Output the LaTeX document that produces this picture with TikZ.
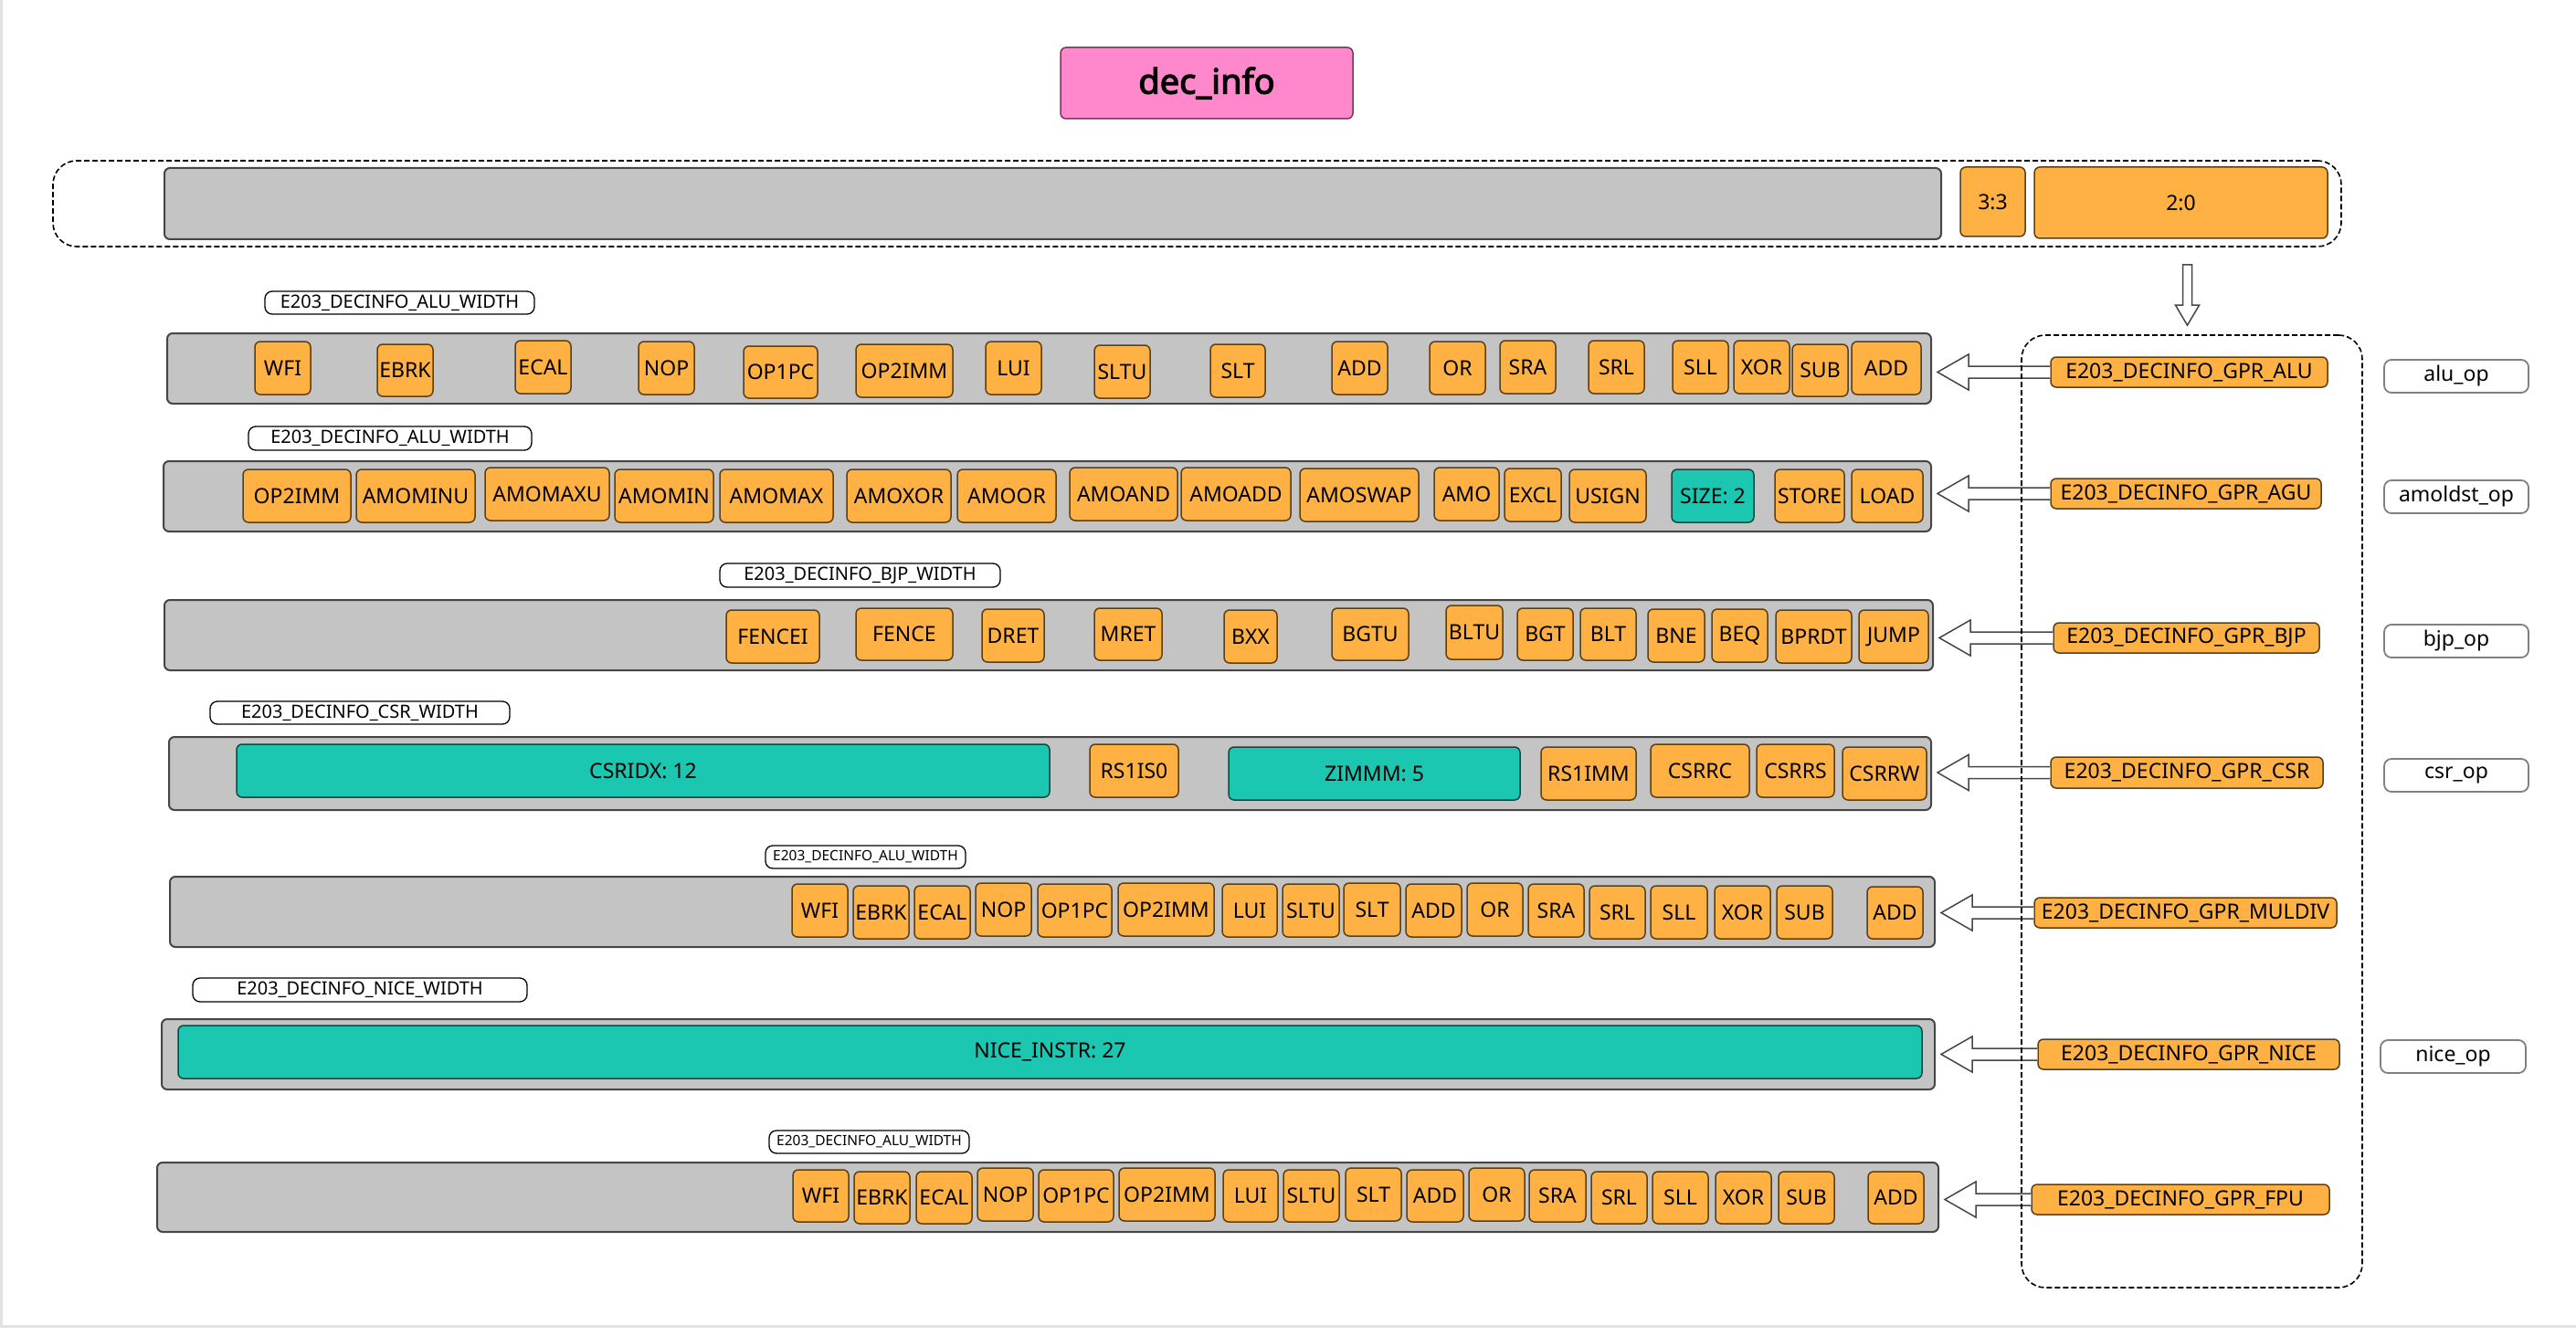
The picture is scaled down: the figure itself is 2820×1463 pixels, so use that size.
\documentclass[tikz,border=0pt]{standalone}
\usepackage{fontspec}
\setmainfont{Noto Sans}[AutoFakeBold=3]
\usetikzlibrary{calc}

\definecolor{infopink}{RGB}{255,136,204}
\definecolor{infoedge}{RGB}{110,58,96}
\definecolor{fieldorange}{RGB}{255,177,68}
\definecolor{orangeedge}{RGB}{90,64,24}
\definecolor{fieldteal}{RGB}{28,199,178}
\definecolor{tealedge}{RGB}{22,70,62}
\definecolor{bargray}{RGB}{196,196,196}
\definecolor{baredge}{RGB}{70,70,70}
\definecolor{pagegray}{RGB}{226,226,226}

\def \cellFont {\fontsize{23}{27}\selectfont}
\def \tagFont {\fontsize{20}{24}\selectfont}
\def \smallTagFont {\fontsize{15.5}{18}\selectfont}
\def \headFont {\fontsize{38}{44}\selectfont\bfseries}

\newcommand\boxat[7][]{\node[#1, minimum width={#5-#3}, minimum height={#6-#4}] (#2) at ({(#3+#5)/2},{(#4+#6)/2}) {#7};}
\newcommand\leftfat[2]{\draw[fatarrow] let \p1=(#1.west), \p2=(#2.east) in
   (\x1,\y1+6.5pt) -- (\x2+40pt,\y1+6.5pt) -- (\x2+40pt,\y1+19.5pt) -- (\x2+6pt,\y1)
   -- (\x2+40pt,\y1-19.5pt) -- (\x2+40pt,\y1-6.5pt) -- (\x1,\y1-6.5pt);}

\tikzset{
   fieldbox/.style={draw=orangeedge, fill=fieldorange, rounded corners=6pt, line width=1.5pt, inner sep=0pt, font=\cellFont},
   idxbox/.style={fieldbox, draw=tealedge, fill=fieldteal},
   barbox/.style={draw=baredge, fill=bargray, rounded corners=6pt, line width=2pt, inner sep=0pt},
   widthtag/.style={draw=black, fill=white, rounded corners=8pt, line width=1.3pt, inner sep=0pt, font=\tagFont},
   smalltag/.style={widthtag, font=\smallTagFont},
   optag/.style={draw=gray, fill=white, rounded corners=8pt, line width=1.8pt, inner sep=0pt, font=\cellFont},
   gprbox/.style={fieldbox},
   headbox/.style={fieldbox, fill=infopink, draw=infoedge, font=\headFont},
   groupframe/.style={draw=black, dash pattern=on 6pt off 3pt, rounded corners=26pt, line width=1.6pt},
   fatarrow/.style={draw=baredge, fill=white, line width=1.5pt, line join=miter}
}

\begin{document}
\begin{tikzpicture}[x=1pt,y=-1pt]
         \useasboundingbox (0,0) rectangle (2820,1463);
         \draw[pagegray, line width=3pt] (1.5,0) -- (1.5,1452) -- (2820,1452);

         \boxat[headbox]{decinfo}{1161}{52}{1481}{130}{dec\_info}

         \boxat[barbox]{wordbar}{180}{184}{2125}{262}{}
         \boxat[fieldbox]{bit33}{2146}{183}{2217}{259}{3:3}
         \boxat[fieldbox]{bit20}{2227}{183}{2548}{261}{2:0}
         \boxat[groupframe]{wordframe}{58}{176}{2563}{270}{}

         % alu
         \boxat[widthtag]{alutag}{290}{319}{585}{344}{E203\_DECINFO\_ALU\_WIDTH}
         \boxat[barbox]{alubar}{183}{365}{2114}{442}{}
         \foreach \a/\b/\c/\d/\t [count=\i] in {279/374/340/432/WFI, 413/377/474/434/EBRK, 564/373/625/431/ECAL,
            699/374/760/432/NOP, 814/379/895/436/OP1PC, 937/377/1043/435/OP2IMM, 1079/374/1140/432/LUI,
            1198/378/1259/436/SLTU, 1325/377/1385/435/SLT, 1458/374/1519/432/ADD, 1565/374/1626/432/OR,
            1642/373/1703/431/SRA, 1739/373/1800/431/SRL, 1831/373/1892/431/SLL, 1898/373/1959/431/XOR,
            1962/377/2023/434/SUB, 2027/374/2103/432/ADD}
            {\boxat[fieldbox]{alu\i}{\a}{\b}{\c}{\d}{\t}}

         % agu
         \boxat[widthtag]{agutag}{272}{467}{582}{493}{E203\_DECINFO\_ALU\_WIDTH}
         \boxat[barbox]{agubar}{179}{505}{2114}{582}{}
         \foreach \a/\b/\c/\d/\t [count=\i] in {266/514/384/572/OP2IMM, 390/514/520/572/AMOMINU,
            531/512/667/570/AMOMAXU, 673/514/781/572/AMOMIN, 788/514/912/572/AMOMAX, 927/514/1041/572/AMOXOR,
            1048/514/1156/572/AMOOR, 1171/512/1289/570/AMOAND, 1293/512/1413/570/AMOADD,
            1423/513/1553/571/AMOSWAP, 1570/512/1641/570/AMO, 1647/513/1709/571/EXCL,
            1718/514/1802/572/USIGN, 1943/514/2019/572/STORE, 2027/514/2105/572/LOAD}
            {\boxat[fieldbox]{agu\i}{\a}{\b}{\c}{\d}{\t}}
         \boxat[idxbox]{agusize}{1830}{514}{1920}{572}{SIZE: 2}

         % bjp
         \boxat[widthtag]{bjptag}{788}{617}{1095}{643}{E203\_DECINFO\_BJP\_WIDTH}
         \boxat[barbox]{bjpbar}{180}{657}{2116}{734}{}
         \foreach \a/\b/\c/\d/\t [count=\i] in {795/668/897/726/FENCEI, 937/666/1043/723/FENCE,
            1075/667/1143/725/DRET, 1198/666/1272/723/MRET, 1340/668/1398/726/BXX, 1458/666/1542/723/BGTU,
            1583/663/1645/722/BLTU, 1661/666/1722/723/BGT, 1730/666/1791/723/BLT, 1804/667/1866/725/BNE,
            1874/667/1935/725/BEQ, 1944/668/2027/726/BPRDT, 2035/668/2111/726/JUMP}
            {\boxat[fieldbox]{bjp\i}{\a}{\b}{\c}{\d}{\t}}

         % csr
         \boxat[widthtag]{csrtag}{230}{768}{558}{793}{E203\_DECINFO\_CSR\_WIDTH}
         \boxat[barbox]{csrbar}{185}{807}{2114}{887}{}
         \boxat[idxbox]{csridx}{259}{815}{1149}{873}{CSRIDX: 12}
         \boxat[idxbox]{csrzimm}{1345}{818}{1664}{876}{ZIMMM: 5}
         \foreach \a/\b/\c/\d/\t [count=\i] in {1193/815/1290/873/RS1IS0, 1687/818/1791/876/RS1IMM,
            1807/815/1915/873/CSRRC, 1923/815/2008/873/CSRRS, 2017/818/2109/876/CSRRW}
            {\boxat[fieldbox]{csr\i}{\a}{\b}{\c}{\d}{\t}}

         % muldiv
         \boxat[smalltag]{multag}{838}{926}{1057}{951}{E203\_DECINFO\_ALU\_WIDTH}
         \boxat[barbox]{mulbar}{186}{960}{2118}{1037}{}
         \foreach \a/\b/\c/\d/\t [count=\i] in {867/968/928/1026/WFI, 934/970/995/1028/EBRK,
            1001/970/1062/1028/ECAL, 1068/967/1129/1025/NOP, 1136/968/1217/1026/OP1PC,
            1224/967/1329/1025/OP2IMM, 1338/968/1398/1026/LUI, 1404/968/1466/1026/SLTU,
            1471/967/1533/1025/SLT, 1539/968/1600/1026/ADD, 1606/967/1667/1025/OR, 1673/968/1734/1026/SRA,
            1740/970/1801/1028/SRL, 1807/970/1869/1028/SLL, 1877/970/1938/1028/XOR,
            1945/970/2006/1028/SUB, 2044/971/2105/1028/ADD}
            {\boxat[fieldbox]{mul\i}{\a}{\b}{\c}{\d}{\t}}

         % nice
         \boxat[widthtag]{nicetag}{211}{1071}{577}{1097}{E203\_DECINFO\_NICE\_WIDTH}
         \boxat[barbox]{nicebar}{177}{1116}{2118}{1193}{}
         \boxat[idxbox]{niceinstr}{195}{1123}{2104}{1181}{NICE\_INSTR: 27}

         % fpu
         \boxat[smalltag]{fputag}{842}{1238}{1061}{1263}{E203\_DECINFO\_ALU\_WIDTH}
         \boxat[barbox]{fpubar}{172}{1273}{2122}{1349}{}
         \foreach \a/\b/\c/\d/\t [count=\i] in {868/1281/929/1338/WFI, 935/1283/996/1340/EBRK,
            1003/1283/1064/1340/ECAL, 1070/1279/1131/1337/NOP, 1137/1281/1219/1338/OP1PC,
            1225/1279/1330/1337/OP2IMM, 1339/1281/1399/1338/LUI, 1405/1281/1466/1338/SLTU,
            1473/1279/1534/1337/SLT, 1540/1281/1602/1338/ADD, 1608/1279/1669/1337/OR,
            1674/1281/1736/1338/SRA, 1742/1283/1803/1340/SRL, 1809/1283/1870/1340/SLL,
            1878/1283/1939/1340/XOR, 1947/1283/2008/1340/SUB, 2045/1283/2106/1340/ADD}
            {\boxat[fieldbox]{fpu\i}{\a}{\b}{\c}{\d}{\t}}

         % gpr selectors
         \boxat[gprbox]{gpralu}{2245}{391}{2548}{424}{E203\_DECINFO\_GPR\_ALU}
         \boxat[gprbox]{gpragu}{2245}{524}{2541}{557}{E203\_DECINFO\_GPR\_AGU}
         \boxat[gprbox]{gprbjp}{2248}{682}{2539}{715}{E203\_DECINFO\_GPR\_BJP}
         \boxat[gprbox]{gprcsr}{2245}{829}{2543}{863}{E203\_DECINFO\_GPR\_CSR}
         \boxat[gprbox]{gprmul}{2227}{983}{2558}{1016}{E203\_DECINFO\_GPR\_MULDIV}
         \boxat[gprbox]{gprnice}{2231}{1138}{2561}{1171}{E203\_DECINFO\_GPR\_NICE}
         \boxat[gprbox]{gprfpu}{2224}{1297}{2550}{1330}{E203\_DECINFO\_GPR\_FPU}

         \leftfat{gpralu}{alubar}
         \leftfat{gpragu}{agubar}
         \leftfat{gprbjp}{bjpbar}
         \leftfat{gprcsr}{csrbar}
         \leftfat{gprmul}{mulbar}
         \leftfat{gprnice}{nicebar}
         \leftfat{gprfpu}{fpubar}

         \boxat[groupframe]{gprframe}{2213}{367}{2586}{1410}{}
         \draw[fatarrow] let \p1=(wordframe.south), \p2=(gprframe.north) in
            (\x2-10pt,\y1-19pt) -- (\x2-10pt,\y2+32pt) -- (\x2-18pt,\y2+32pt) -- (\x2-5pt,\y2+10pt)
            -- (\x2+8pt,\y2+32pt) -- (\x2,\y2+32pt) -- (\x2,\y1-19pt) -- cycle;

         \boxat[optag]{aluop}{2610}{394}{2768}{430}{alu\_op}
         \boxat[optag]{agusop}{2610}{526}{2768}{562}{amoldst\_op}
         \boxat[optag]{bjpop}{2610}{684}{2768}{720}{bjp\_op}
         \boxat[optag]{csrop}{2610}{831}{2768}{867}{csr\_op}
         \boxat[optag]{niceop}{2606}{1139}{2765}{1175}{nice\_op}
\end{tikzpicture}
\end{document}
